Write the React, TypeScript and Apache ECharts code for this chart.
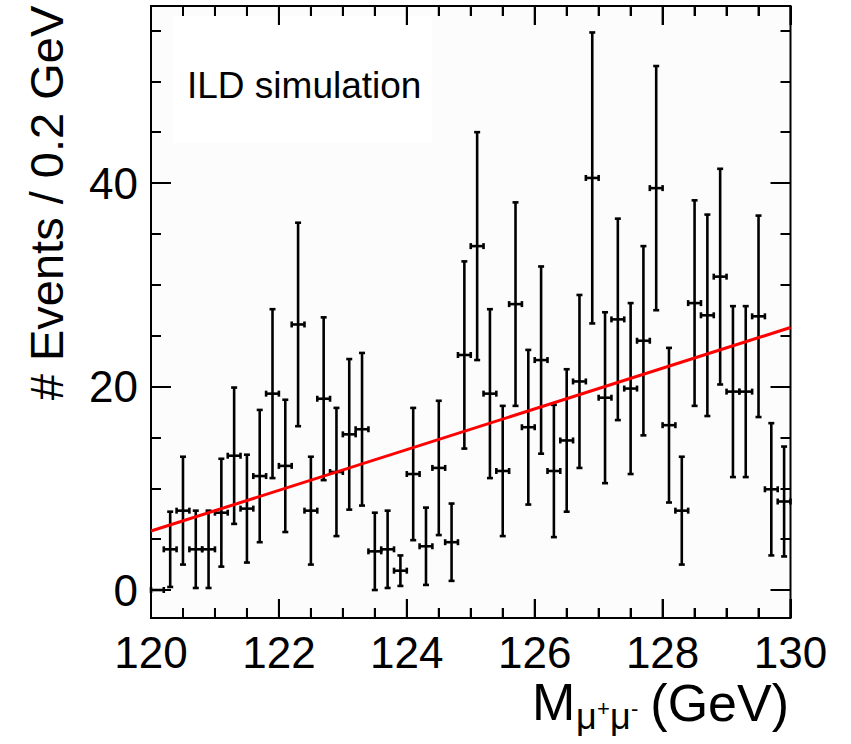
import React, { useEffect, useRef } from "react";
import * as echarts from "echarts";

// Histogram: 50 bins of 0.2 GeV from 120 to 130 GeV
const BIN_LOW = 120;
const BIN_WIDTH = 0.2;
const counts = [
  0, 4.0, 7.8, 4.0, 4.0, 7.6, 13.2, 8.0, 11.2, 19.3,
  12.2, 26.1, 7.8, 18.8, 11.6, 15.3, 15.8, 3.8, 4.0, 1.9,
  11.4, 4.3, 12.0, 4.7, 23.1, 33.8, 19.3, 11.7, 28.1, 16.0,
  22.6, 11.7, 14.7, 20.5, 40.5, 18.9, 26.6, 19.8, 24.5, 39.5,
  16.2, 7.8, 28.2, 27.0, 30.8, 19.5, 19.5, 26.9, 9.9, 8.7,
];
const errors = [
  0, 3.7, 5.3, 3.8, 3.8, 5.3, 6.7, 5.3, 6.5, 8.3,
  6.5, 10.0, 5.3, 8.0, 6.3, 7.4, 7.5, 3.8, 3.8, 1.5,
  6.5, 3.8, 6.6, 3.8, 9.2, 11.2, 8.3, 6.4, 10.0, 7.6,
  9.2, 6.5, 7.0, 8.5, 14.3, 8.4, 9.9, 8.4, 9.3, 12.0,
  7.6, 5.3, 10.1, 9.9, 10.6, 8.4, 8.4, 9.9, 6.5, 5.4,
];

// Linear fit
const fitX = [120, 130];
const fitY = [5.8, 25.8];

// Axes
const X_MIN = 120;
const X_MAX = 130;
const Y_MIN = -2.75;
const Y_MAX = 57.4;
const xMajor = [120, 122, 124, 126, 128, 130];
const xMinor = [120.5, 121, 121.5, 122.5, 123, 123.5, 124.5, 125, 125.5, 126.5, 127, 127.5, 128.5, 129, 129.5];
const yMajor = [0, 20, 40];
const yMinor = [5, 10, 15, 25, 30, 35, 45, 50, 55];

const W = 851;
const H = 744;
const GRID = { left: 151, right: 60.5, top: 6, bottom: 126 };

const FONT = "'Liberation Sans', Arial, Helvetica, sans-serif";

export default function App() {
  const ref = useRef<HTMLDivElement>(null);

  useEffect(() => {
    if (!ref.current) return;
    const chart = echarts.init(ref.current, undefined, { renderer: "svg" });

    const data = counts.map((c, i) => [BIN_LOW + (i + 0.5) * BIN_WIDTH, c, errors[i]]);

    const tickStyle = { color: "#000", width: 2 };

    const xAxisBase = (position: string, labels: boolean) => ({
      type: "value",
      position,
      min: X_MIN,
      max: X_MAX,
      interval: 2,
      axisLine: { show: false, onZero: false },
      axisTick: { show: true, inside: true, length: 19, lineStyle: tickStyle },
      minorTick: { show: true, splitNumber: 4, length: 10, lineStyle: tickStyle },
      splitLine: { show: false },
      minorSplitLine: { show: false },
      axisLabel: {
        show: labels,
        fontSize: 44,
        fontFamily: FONT,
        color: "#000",
        margin: 12,
      },
    });

    const yAxisBase = (position: string, values: number[], len: number, labels: boolean) => ({
      type: "value",
      position,
      min: Y_MIN,
      max: Y_MAX,
      axisLine: { show: false },
      axisTick: { show: true, inside: true, length: len, lineStyle: tickStyle, customValues: values },
      splitLine: { show: false },
      axisLabel: {
        show: labels,
        customValues: values,
        fontSize: 44,
        fontFamily: FONT,
        color: "#000",
        margin: 13,
      },
    });

    const baseGraphic: any[] = [
      {
        type: "rect",
        shape: { x: 173, y: 16, width: 259, height: 127 },
        style: { fill: "#ffffff" },
        z: 0,
        silent: true,
      },
      {
        type: "text",
        x: 187,
        y: 85,
        style: {
          text: "ILD simulation",
          font: `37px ${FONT}`,
          fill: "#000",
          align: "left",
          verticalAlign: "middle",
        },
        z: 10,
      },
      {
        type: "text",
        x: 46,
        y: 203,
        rotation: Math.PI / 2,
        style: {
          text: "# Events / 0.2 GeV",
          font: `47px ${FONT}`,
          fill: "#000",
          align: "center",
          verticalAlign: "middle",
        },
      },
      {
        type: "text",
        x: 532,
        y: 702,
        style: { text: "M", font: `52px ${FONT}`, lineHeight: 40, fill: "#000", align: "left", verticalAlign: "middle" },
      },
      {
        type: "text",
        x: 576,
        y: 716,
        style: { text: "μ", font: `36px ${FONT}`, lineHeight: 28, fill: "#000", align: "left", verticalAlign: "middle" },
      },
      {
        type: "text",
        x: 597,
        y: 708,
        style: { text: "+", font: `22px ${FONT}`, lineHeight: 16, fill: "#000", align: "left", verticalAlign: "middle" },
      },
      {
        type: "text",
        x: 610,
        y: 716,
        style: { text: "μ", font: `36px ${FONT}`, lineHeight: 28, fill: "#000", align: "left", verticalAlign: "middle" },
      },
      {
        type: "text",
        x: 631,
        y: 708,
        style: { text: "-", font: `22px ${FONT}`, lineHeight: 16, fill: "#000", align: "left", verticalAlign: "middle" },
      },
      {
        type: "text",
        x: 789,
        y: 703,
        style: { text: "(GeV)", font: `52px ${FONT}`, lineHeight: 42, fill: "#000", align: "right", verticalAlign: "middle" },
      },
    ];

    const option: any = {
      animation: false,
      backgroundColor: "#ffffff",
      grid: {
        ...GRID,
        show: true,
        borderColor: "#000",
        borderWidth: 2,
        backgroundColor: "#fcfcfc",
      },
      xAxis: [xAxisBase("bottom", true), xAxisBase("top", false)],
      yAxis: [
        yAxisBase("left", yMajor, 20, true),
        yAxisBase("left", yMinor, 10, false),
        yAxisBase("right", yMajor, 20, false),
        yAxisBase("right", yMinor, 10, false),
      ],
      graphic: baseGraphic,
      series: [
        {
          type: "custom",
          xAxisIndex: 0,
          yAxisIndex: 0,
          encode: { x: 0, y: 1 },
          data,
          z: 2,
          renderItem: (params: any, api: any) => {
            const x = api.value(0);
            const y = api.value(1);
            const e = api.value(2);
            const hw = BIN_WIDTH / 2;
            const l = api.coord([x - hw, y]);
            const r = api.coord([x + hw, y]);
            const style = { stroke: "#000", lineWidth: 2.6 };
            const cap = 3;
            const children: any[] = [
              { type: "line", shape: { x1: l[0], y1: l[1], x2: r[0], y2: r[1] }, style },
              { type: "line", shape: { x1: l[0], y1: l[1] - cap, x2: l[0], y2: l[1] + cap }, style },
              { type: "line", shape: { x1: r[0], y1: r[1] - cap, x2: r[0], y2: r[1] + cap }, style },
            ];
            if (e > 0) {
              const t = api.coord([x, y + e]);
              const b = api.coord([x, Math.max(y - e, Y_MIN)]);
              children.push(
                { type: "line", shape: { x1: t[0], y1: t[1], x2: b[0], y2: b[1] }, style },
                { type: "line", shape: { x1: t[0] - cap, y1: t[1], x2: t[0] + cap, y2: t[1] }, style },
                { type: "line", shape: { x1: b[0] - cap, y1: b[1], x2: b[0] + cap, y2: b[1] }, style }
              );
            }
            return { type: "group", children };
          },
        },
        {
          type: "line",
          xAxisIndex: 0,
          yAxisIndex: 0,
          data: fitX.map((x, i) => [x, fitY[i]]),
          showSymbol: false,
          symbol: "none",
          lineStyle: { color: "#ff0000", width: 3 },
          z: 5,
        },
      ],
    };

    chart.setOption(option);

    // Extra x-axis ticks as thin rectangles on the frame edges (x from the axis scale)
    try {
      const yBottom = H - GRID.bottom;
      const yTop = GRID.top;
      const tickRects: any[] = [];
      const addTicks = (values: number[], len: number) => {
        values.forEach((v) => {
          const px = chart.convertToPixel({ xAxisIndex: 0 }, v) as unknown as number;
          if (typeof px !== "number" || !isFinite(px)) return;
          tickRects.push(
            { type: "rect", shape: { x: px - 1, y: yBottom - len, width: 2, height: len }, style: { fill: "#000" }, z: 50, silent: true },
            { type: "rect", shape: { x: px - 1, y: yTop, width: 2, height: len }, style: { fill: "#000" }, z: 50, silent: true }
          );
        });
      };
      addTicks(xMajor, 19);
      addTicks(xMinor, 10);
      chart.setOption({ graphic: [...baseGraphic, ...tickRects] });
    } catch (err) {
      // keep the base chart if tick placement fails
    }

    return () => chart.dispose();
  }, []);

  return (
    <div
      ref={ref}
      style={{ position: "fixed", left: 0, top: 0, width: W, height: H, background: "#fff" }}
    />
  );
}
